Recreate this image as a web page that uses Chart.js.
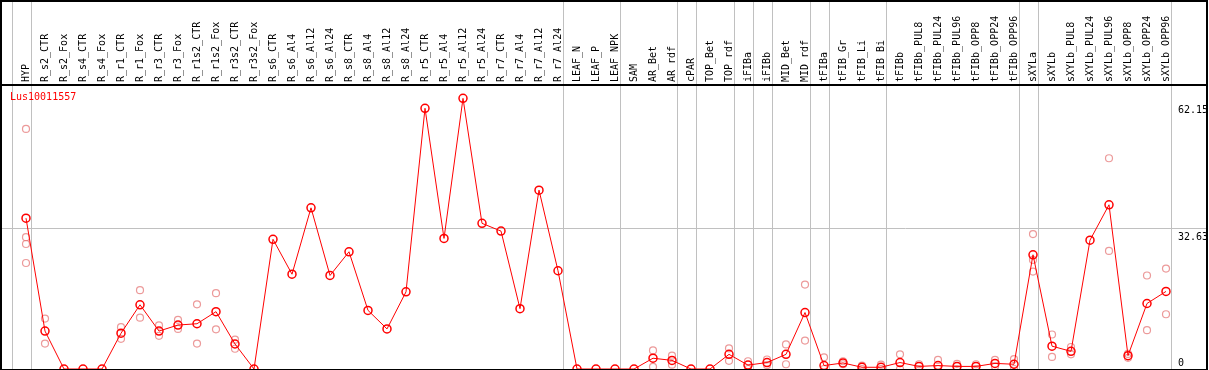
<!DOCTYPE html>
<html>
<head>
<meta charset="utf-8">
<script src="https://cdn.jsdelivr.net/npm/chart.js@4.4.1/dist/chart.umd.min.js"></script>
<style>
  html, body { margin: 0; padding: 0; background: #fff; }
  #wrap { width: 1209px; height: 370px; }
</style>
</head>
<body>
<div id="wrap"><canvas id="chart" width="1209" height="370"></canvas></div>
<script>
const geneName = 'Lus10011557';

const categories = [
  'HYP', 'R_s2_CTR', 'R_s2_Fox', 'R_s4_CTR', 'R_s4_Fox', 'R_r1_CTR', 'R_r1_Fox', 'R_r3_CTR', 'R_r3_Fox',
  'R_r1s2_CTR', 'R_r1s2_Fox', 'R_r3s2_CTR', 'R_r3s2_Fox', 'R_s6_CTR', 'R_s6_Al4', 'R_s6_Al12', 'R_s6_Al24',
  'R_s8_CTR', 'R_s8_Al4', 'R_s8_Al12', 'R_s8_Al24', 'R_r5_CTR', 'R_r5_Al4', 'R_r5_Al12', 'R_r5_Al24',
  'R_r7_CTR', 'R_r7_Al4', 'R_r7_Al12', 'R_r7_Al24', 'LEAF_N', 'LEAF_P', 'LEAF_NPK', 'SAM', 'AR_Bet', 'AR_rdf',
  'cPAR', 'TOP_Bet', 'TOP_rdf', 'iFIBa', 'iFIBb', 'MID_Bet', 'MID_rdf', 'tFIBa', 'tFIB_Gr', 'tFIB_Li', 'tFIB_Bi',
  'tFIBb', 'tFIBb_PUL8', 'tFIBb_PUL24', 'tFIBb_PUL96', 'tFIBb_OPP8', 'tFIBb_OPP24', 'tFIBb_OPP96',
  'sXYLa', 'sXYLb', 'sXYLb_PUL8', 'sXYLb_PUL24', 'sXYLb_PUL96', 'sXYLb_OPP8', 'sXYLb_OPP24', 'sXYLb_OPP96'
];

// mean expression per sample
const meanValues = [
  35.0, 8.8, 0, 0, 0, 8.3, 14.9, 8.8, 10.2,
  10.5, 13.3, 5.8, 0, 30.1, 22.0, 37.4, 21.7,
  27.2, 13.6, 9.3, 17.9, 60.5, 30.3, 62.8, 33.8,
  32.0, 14.0, 41.5, 22.8, 0, 0, 0, 0, 2.5, 2.0,
  0, 0, 3.4, 0.9, 1.5, 3.4, 13.1, 0.8, 1.4, 0.4, 0.4,
  1.5, 0.6, 0.8, 0.6, 0.6, 1.3, 1.1,
  26.5, 5.3, 4.1, 29.9, 38.1, 3.1, 15.2, 18.0
];

// individual replicates (null = none shown)
const rep1 = [
  55.7, 11.7, null, null, null, 9.7, 18.3, 10.1, 11.4,
  15.0, 17.6, 6.8, null, null, null, null, null,
  null, null, null, null, null, null, null, null,
  null, null, null, null, null, null, null, null, 4.3, 3.1,
  null, null, 4.8, 1.8, 2.2, 5.7, 19.6, 2.7, 1.8, 0.8, 1.0,
  3.4, 1.1, 2.1, 1.2, 1.1, 2.1, 2.3,
  31.3, 8.0, 5.1, null, 48.9, 3.5, 21.7, 23.3
];
const rep2 = [
  30.6, 5.9, null, null, null, 7.0, 11.9, 7.7, 9.3,
  5.9, 9.2, 4.7, null, null, null, null, null,
  null, null, null, null, null, null, null, null,
  null, null, null, null, null, null, null, null, 0.5, 1.0,
  null, null, 1.9, 0, 0.9, 1.1, 6.6, 0, 1.1, 0, 0,
  0, 0, 0, 0, 0, 0.6, 0,
  25.3, 2.8, 3.4, null, 27.4, 2.6, 9.0, 12.7
];
const rep3 = [29.0].concat(new Array(52).fill(null), [22.6], new Array(7).fill(null));
const rep4 = [24.6].concat(new Array(60).fill(null));

const yTicks = [0, 32.63, 62.15];
// last sample of each group, vertical separators
const groupEnds = [-1, 0, 28, 31, 34, 35, 37, 38, 39, 41, 42, 45, 52, 53, 60];

const FONT = '"DejaVu Sans Mono", monospace';
const toPoints = arr => arr.map((v, i) => ({ x: i, y: v }));

const repStyle = {
  showLine: false,
  pointStyle: 'circle',
  pointRadius: 3.5,
  pointBorderWidth: 1.2,
  pointBorderColor: 'rgba(230,120,120,0.75)',
  pointBackgroundColor: 'rgba(0,0,0,0)',
  clip: 0,
  order: 2
};

const framePlugin = {
  id: 'frame',
  beforeDatasetsDraw(chart) {
    const { ctx, scales: { x } } = chart;
    ctx.save();
    ctx.strokeStyle = '#c0c0c0';
    ctx.lineWidth = 1;
    groupEnds.forEach(i => {
      const px = Math.round(x.getPixelForValue(i) + 4.5) + 0.5;
      ctx.beginPath();
      ctx.moveTo(px, 0);
      ctx.lineTo(px, chart.height);
      ctx.stroke();
    });
    ctx.restore();
  },
  afterDraw(chart) {
    const { ctx, chartArea: a, scales: { y } } = chart;
    ctx.save();
    ctx.strokeStyle = '#000';
    ctx.lineWidth = 2;
    ctx.strokeRect(1, 1, a.right - 1, a.bottom);
    ctx.beginPath();
    ctx.moveTo(0, a.top);
    ctx.lineTo(a.right, a.top);
    ctx.stroke();

    ctx.font = '10px ' + FONT;
    ctx.fillStyle = '#000';
    ctx.textAlign = 'left';
    yTicks.forEach(v => {
      const py = y.getPixelForValue(v);
      if (v === 0) {
        ctx.textBaseline = 'bottom';
        ctx.fillText(String(v), 1178, py - 1);
      } else {
        ctx.textBaseline = 'top';
        ctx.fillText(v.toFixed(2), 1178, py + 4);
      }
    });

    ctx.fillStyle = '#ff0000';
    ctx.textBaseline = 'alphabetic';
    ctx.fillText(geneName, 10, 100);
    ctx.restore();
  }
};

new Chart(document.getElementById('chart'), {
  type: 'line',
  data: {
    datasets: [
      {
        data: toPoints(meanValues),
        borderColor: '#ff0000',
        borderWidth: 1,
        tension: 0,
        pointStyle: 'circle',
        pointRadius: 4,
        pointBorderWidth: 1.5,
        pointBorderColor: '#ff0000',
        pointBackgroundColor: 'rgba(0,0,0,0)',
        clip: 0,
        order: 0
      },
      Object.assign({ data: toPoints(rep1) }, repStyle),
      Object.assign({ data: toPoints(rep2) }, repStyle),
      Object.assign({ data: toPoints(rep3) }, repStyle),
      Object.assign({ data: toPoints(rep4) }, repStyle)
    ]
  },
  options: {
    responsive: false,
    animation: false,
    layout: { autoPadding: false, padding: { left: 1, right: 2, top: 1, bottom: 1 } },
    plugins: { legend: { display: false }, tooltip: { enabled: false } },
    scales: {
      x: {
        type: 'linear',
        position: 'top',
        min: -25 / 19,
        max: -25 / 19 + 1206 / 19,
        afterBuildTicks: s => { s.ticks = categories.map((c, i) => ({ value: i })); },
        afterFit: s => { s.height = 84; s.paddingLeft = 0; s.paddingRight = 0; },
        grid: { display: false, drawTicks: false },
        border: { display: false },
        ticks: {
          autoSkip: false,
          minRotation: 90,
          maxRotation: 90,
          padding: 3,
          labelOffset: 12,
          color: '#000',
          font: { family: FONT, size: 10 },
          callback: v => categories[v] ?? ''
        }
      },
      y: {
        min: 0,
        max: 65.9,
        afterBuildTicks: s => { s.ticks = yTicks.map(v => ({ value: v })); },
        afterFit: s => { s.width = 0; },
        border: { display: false },
        grid: {
          drawTicks: false,
          color: c => (c.tick && c.tick.value === 32.63 ? '#c0c0c0' : 'rgba(0,0,0,0)')
        },
        ticks: { display: false }
      }
    }
  },
  plugins: [framePlugin]
});
</script>
</body>
</html>
